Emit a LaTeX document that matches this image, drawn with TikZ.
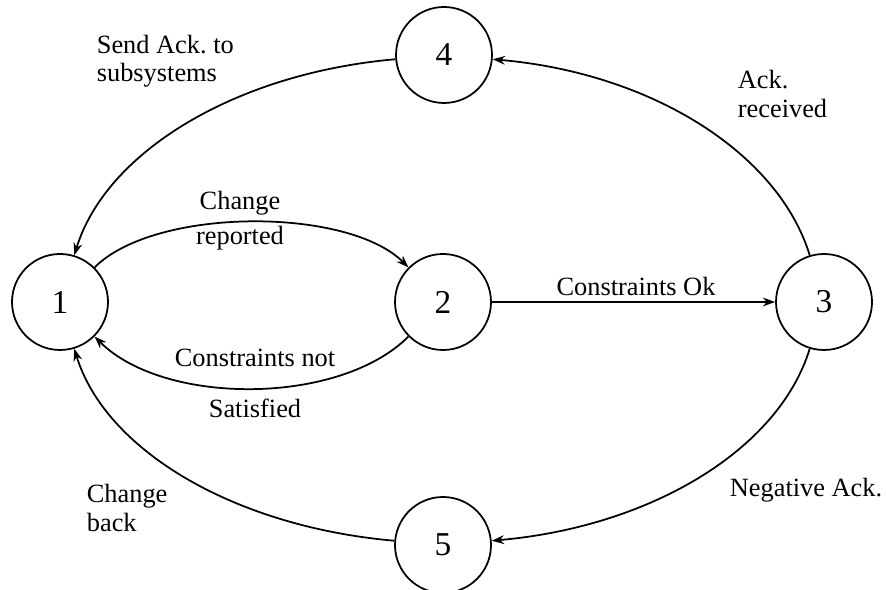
\documentclass[tikz,border=0pt]{standalone}
\usepackage{fontspec}
\setmainfont{Liberation Serif}
\usetikzlibrary{arrows.meta}
\tikzset{every node/.style={draw=none,inner sep=0pt},
  st/.style={draw,circle,minimum size=19.2mm,font=\fontsize{19}{21}\selectfont},
  lbl/.style={align=left,font=\fontsize{15}{16}\selectfont}}

\begin{document}
\begin{tikzpicture}[x=0.2mm,y=0.2mm,line width=1pt,>={Stealth[length=7pt,width=5pt]}]
      \useasboundingbox (0,0) rectangle (886,590);
      \node[st] (1) at (60,288) {1};
      \node[st] (2) at (443,288) {2};
      \node[st] (3) at (824,288) {3};
      \node[st] (4) at (444,535) {4};
      \node[st] (5) at (443,45) {5};

      \node[lbl] (chg) at (240,387) {Change};
      \node[lbl] (rep) at (240,352) {reported};
      \node[lbl] (cnot) at (255,232) {Constraints not};
      \node[lbl] (sat) at (255,182) {Satisfied};
      \node[lbl] (cok) at (636,304) {Constraints Ok};
      \node[lbl,anchor=west] (send) at (96,529) {Send Ack.\ to\\subsystems};
      \node[lbl,anchor=west] (ackr) at (737,496) {Ack.\\received};
      \node[lbl,anchor=west] (neg) at (729,100) {Negative Ack.};
      \node[lbl,anchor=west] (back) at (86,82) {Change\\back};

\draw[->] (1) to[out=45,in=135,looseness=0.7] (2);
\draw[->] (2) to[out=-135,in=-45,looseness=0.8] (1);
\draw[->] (2) -- (3);
\foreach \a/\b/\o/\i/\lo/\li in {3/4/107/-5/0.73/1.1,4/1/185/73/1.1/0.73,3/5/-107/5/0.73/1.1,5/1/175/-73/1.1/0.73}
  \draw[->] (\a) to[out=\o,in=\i,out looseness=\lo,in looseness=\li] (\b);
    \end{tikzpicture}
\end{document}
